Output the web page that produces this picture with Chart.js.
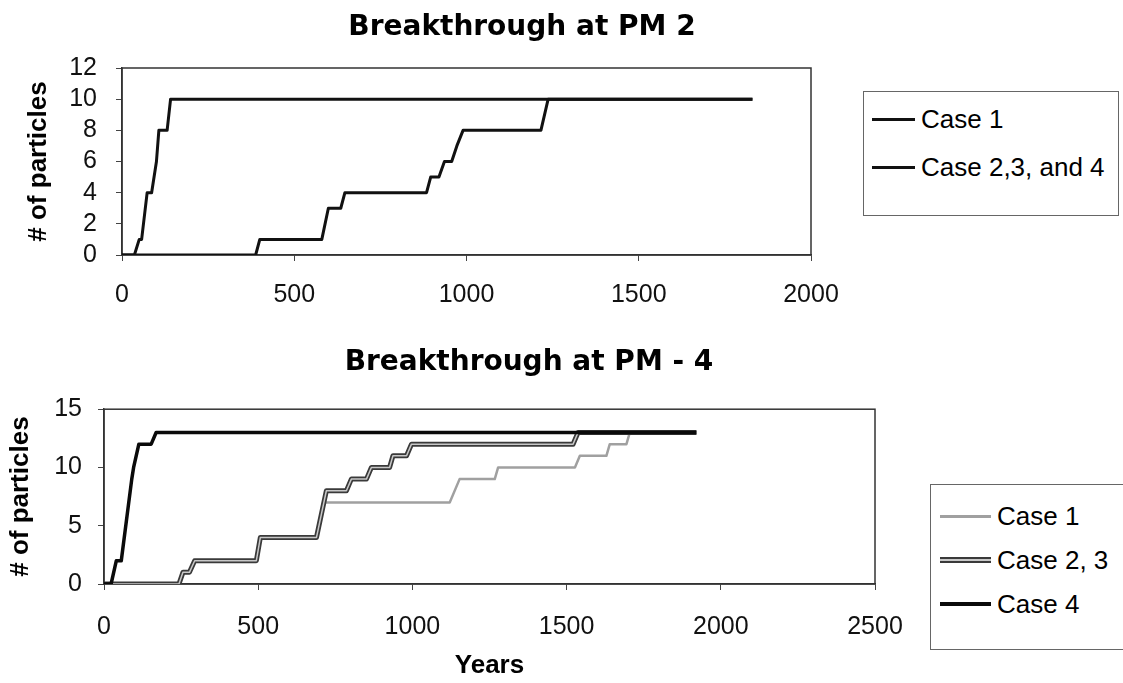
<!DOCTYPE html>
<html>
<head>
<meta charset="utf-8">
<title>Breakthrough at PM 2 / PM - 4</title>
<script src="https://cdn.jsdelivr.net/npm/chart.js@4.4.0/dist/chart.umd.min.js"></script>
<style>
  html, body { margin: 0; padding: 0; background: #fff; }
  body { width: 1123px; height: 683px; position: relative; overflow: hidden; }
  .chart-box { position: absolute; left: 0; }
  .legend {
    position: absolute;
    border: 1.5px solid #666;
    background: #fff;
    font-family: "Liberation Sans", Arial, sans-serif;
    font-size: 26px;
    color: #000;
    box-sizing: border-box;
  }
  .legend .item { display: flex; align-items: center; white-space: nowrap; }
  .legend .swatch { display: inline-block; margin-right: 6px; box-sizing: border-box; }
</style>
</head>
<body>
<div class="chart-box" style="top:0;"><canvas id="pm2" width="1044" height="320"></canvas></div>
<div class="chart-box" style="top:330px;"><canvas id="pm4" width="1058" height="353"></canvas></div>
<div class="legend" id="legendPm2" style="left:863px; top:91px; width:256px; height:125px; padding-top:3px; padding-left:8px;"></div>
<div class="legend" id="legendPm4" style="left:930px; top:484px; width:200px; height:166px; padding-top:9px; padding-left:9px;"></div>

<script>
// ---- Breakthrough at PM 2 ----
const pm2XTicks = [0, 500, 1000, 1500, 2000];
const pm2YTicks = [0, 2, 4, 6, 8, 10, 12];

// Case 1 (slow)
const pm2Case1Years = [0, 388, 400, 580, 599, 635, 647, 884, 896, 920, 936, 957, 972, 990, 1216, 1237, 1830];
const pm2Case1Count = [0, 0, 1, 1, 3, 3, 4, 4, 5, 5, 6, 6, 7, 8, 8, 10, 10];

// Case 2,3, and 4 (fast)
const pm2Case234Years = [0, 36, 50, 57, 73, 86, 100, 107, 131, 141, 1830];
const pm2Case234Count = [0, 0, 1, 1, 4, 4, 6, 8, 8, 10, 10];

// ---- Breakthrough at PM - 4 ----
const pm4XTicks = [0, 500, 1000, 1500, 2000, 2500];
const pm4YTicks = [0, 5, 10, 15];

const pm4Case1Years = [0, 243, 256, 277, 294, 494, 507, 689, 712, 1121, 1153, 1267, 1278, 1527, 1543, 1629, 1640, 1694, 1705, 1712];
const pm4Case1Count = [0, 0, 1, 1, 2, 2, 4, 4, 7, 7, 9, 9, 10, 10, 11, 11, 12, 12, 13, 13];

const pm4Case23Years = [0, 243, 256, 277, 294, 494, 507, 689, 721, 786, 802, 851, 867, 926, 937, 981, 997, 1521, 1537, 1921];
const pm4Case23Count = [0, 0, 1, 1, 2, 2, 4, 4, 8, 8, 9, 9, 10, 10, 11, 11, 12, 12, 13, 13];

const pm4Case4Years = [0, 23, 40, 56, 90, 96, 113, 153, 169, 1921];
const pm4Case4Count = [0, 0, 2, 2, 9, 10, 12, 12, 13, 13];

const TICK_FONT = { family: '"Liberation Sans", Arial, sans-serif', size: 25 };
const AXIS_TITLE_FONT = { family: '"Liberation Sans", Arial, sans-serif', size: 26, weight: 'bold' };
const TITLE_FONT = { family: '"DejaVu Sans", sans-serif', size: 28, weight: 'bold' };

function toPoints(xs, ys) {
  return xs.map((x, i) => ({ x: x, y: ys[i] }));
}

// draws the full box round the plot area (Excel style)
const plotBorder = {
  id: 'plotBorder',
  beforeDatasetsDraw(chart) {
    const a = chart.chartArea;
    const ctx = chart.ctx;
    ctx.save();
    ctx.strokeStyle = '#333';
    ctx.lineWidth = 1.5;
    ctx.strokeRect(a.left, a.top, a.right - a.left, a.bottom - a.top);
    ctx.restore();
  }
};

function lineSet(label, xs, ys, color, width, order, extra) {
  return Object.assign({
    label: label,
    data: toPoints(xs, ys),
    borderColor: color,
    borderWidth: width,
    pointRadius: 0,
    tension: 0,
    fill: false,
    borderJoinStyle: 'round',
    order: order
  }, extra || {});
}

function axis(ticks, tickPad, fitSize, horizontal, title) {
  return {
    type: 'linear',
    min: ticks[0],
    max: ticks[ticks.length - 1],
    afterBuildTicks: s => { s.ticks = ticks.map(v => ({ value: v })); },
    afterFit: s => { if (horizontal) s.height = fitSize; else s.width = fitSize; },
    ticks: {
      font: TICK_FONT, color: '#111', padding: tickPad,
      autoSkip: false, maxRotation: 0, callback: v => String(v)
    },
    grid: { drawOnChartArea: false, drawTicks: true, tickLength: 6, color: '#444' },
    border: { color: '#333', width: 1.5 },
    title: title
  };
}

// empty right-hand box so the title centres over the whole canvas
function spacer(width) {
  return {
    type: 'linear', position: 'right', display: true, min: 0, max: 1,
    ticks: { display: false },
    grid: { display: false, drawTicks: false },
    border: { display: false },
    afterFit: s => { s.width = width; }
  };
}

function baseOptions(titleText, titlePad, padding, scales) {
  return {
    responsive: false,
    animation: false,
    layout: { padding: padding },
    plugins: {
      legend: { display: false },
      tooltip: { enabled: false },
      title: { display: true, text: titleText, font: TITLE_FONT, color: '#000', padding: titlePad }
    },
    scales: scales
  };
}

const pm2Chart = new Chart(document.getElementById('pm2'), {
  type: 'line',
  data: {
    datasets: [
      lineSet('Case 1', pm2Case1Years, pm2Case1Count, '#111', 3, 2),
      lineSet('Case 2,3, and 4', pm2Case234Years, pm2Case234Count, '#111', 3, 1)
    ]
  },
  options: baseOptions('Breakthrough at PM 2', { top: 11, bottom: 23.4 },
    { left: 0, right: 0, top: 0, bottom: 5 },
    {
      x: axis(pm2XTicks, 19, 60, true, { display: false }),
      y: axis(pm2YTicks, 19, 122, false, {
        display: true, text: '# of particles', font: AXIS_TITLE_FONT, color: '#000',
        padding: { top: 23, bottom: 0 }
      }),
      y2: spacer(233)
    }),
  plugins: [plotBorder]
});

const pm4Chart = new Chart(document.getElementById('pm4'), {
  type: 'line',
  data: {
    datasets: [
      lineSet('Case 1', pm4Case1Years, pm4Case1Count, '#a0a0a0', 2.5, 4),
      lineSet('Case 2, 3', pm4Case23Years, pm4Case23Count, '#3a3a3a', 5, 3),
      // light core of the Case 2, 3 double line
      lineSet('', pm4Case23Years, pm4Case23Count, '#c8c8c8', 1.5, 2, { helper: true }),
      lineSet('Case 4', pm4Case4Years, pm4Case4Count, '#0a0a0a', 3.5, 1)
    ]
  },
  options: baseOptions('Breakthrough at PM - 4', { top: 16, bottom: 29.6 },
    { left: 0, right: 0, top: 0, bottom: 1 },
    {
      x: axis(pm4XTicks, 22, 98, true, {
        display: true, text: 'Years', font: AXIS_TITLE_FONT, color: '#000',
        padding: { top: 0, bottom: 1 }
      }),
      y: axis(pm4YTicks, 16, 104, false, {
        display: true, text: '# of particles', font: AXIS_TITLE_FONT, color: '#000',
        padding: { top: 5, bottom: 0 }
      }),
      y2: spacer(183)
    }),
  plugins: [plotBorder]
});

// HTML legends built from the datasets
function buildLegend(chart, elId, rowHeight, swatchWidth) {
  const el = document.getElementById(elId);
  chart.data.datasets.forEach(ds => {
    if (ds.helper) return;
    const row = document.createElement('div');
    row.className = 'item';
    row.style.height = rowHeight + 'px';
    const sw = document.createElement('span');
    sw.className = 'swatch';
    sw.style.width = swatchWidth + 'px';
    if (ds.label === 'Case 2, 3') {
      sw.style.height = '6px';
      sw.style.background = '#c8c8c8';
      sw.style.borderTop = '2px solid ' + ds.borderColor;
      sw.style.borderBottom = '2px solid ' + ds.borderColor;
    } else {
      sw.style.height = Math.max(2, Math.round(ds.borderWidth)) + 'px';
      sw.style.background = ds.borderColor;
    }
    const txt = document.createElement('span');
    txt.textContent = ds.label;
    row.appendChild(sw);
    row.appendChild(txt);
    el.appendChild(row);
  });
}

buildLegend(pm2Chart, 'legendPm2', 48, 43);
buildLegend(pm4Chart, 'legendPm4', 44, 51);
</script>
</body>
</html>
